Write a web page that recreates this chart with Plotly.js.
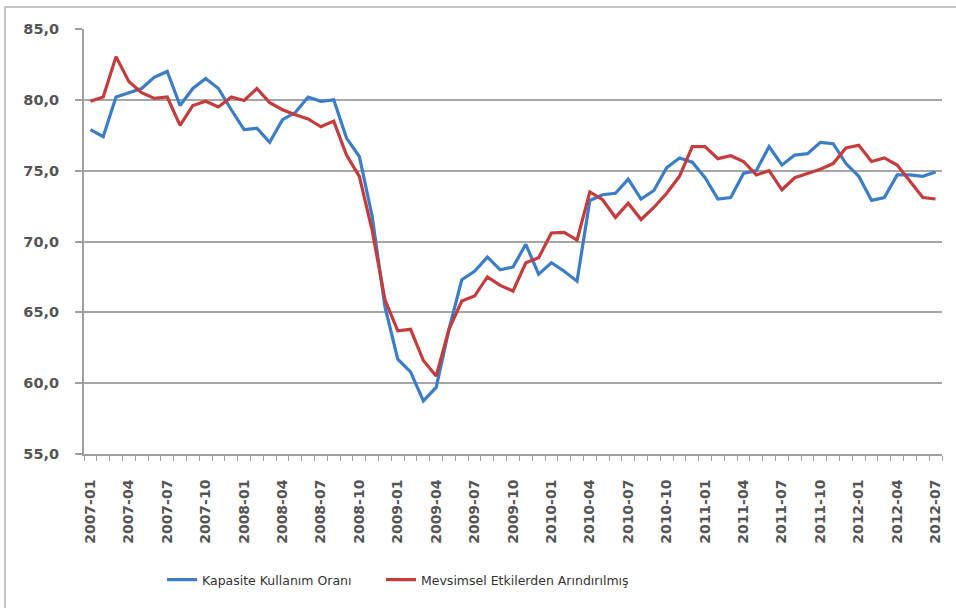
<!DOCTYPE html>
<html>
<head>
<meta charset="utf-8">
<script src="https://cdn.plot.ly/plotly-3.0.1.min.js"></script>
<style>
html,body{margin:0;padding:0;background:#fff;}
#chart{width:956px;height:608px;}
</style>
</head>
<body>
<div id="chart"></div>
<script>
var months = [
"2007-01","2007-02","2007-03","2007-04","2007-05","2007-06","2007-07","2007-08","2007-09","2007-10","2007-11","2007-12",
"2008-01","2008-02","2008-03","2008-04","2008-05","2008-06","2008-07","2008-08","2008-09","2008-10","2008-11","2008-12",
"2009-01","2009-02","2009-03","2009-04","2009-05","2009-06","2009-07","2009-08","2009-09","2009-10","2009-11","2009-12",
"2010-01","2010-02","2010-03","2010-04","2010-05","2010-06","2010-07","2010-08","2010-09","2010-10","2010-11","2010-12",
"2011-01","2011-02","2011-03","2011-04","2011-05","2011-06","2011-07","2011-08","2011-09","2011-10","2011-11","2011-12",
"2012-01","2012-02","2012-03","2012-04","2012-05","2012-06","2012-07"];

var tickLabels = ["2007-01","2007-04","2007-07","2007-10","2008-01","2008-04","2008-07","2008-10",
"2009-01","2009-04","2009-07","2009-10","2010-01","2010-04","2010-07","2010-10",
"2011-01","2011-04","2011-07","2011-10","2012-01","2012-04","2012-07"];

var kapasite = [
77.9,77.4,80.2,80.5,80.8,81.6,82.0,79.6,80.8,81.5,80.8,79.3,
77.9,78.0,77.0,78.6,79.1,80.2,79.9,80.0,77.3,76.0,71.8,65.4,
61.7,60.8,58.75,59.7,63.8,67.3,67.9,68.9,68.0,68.2,69.8,67.7,
68.5,67.9,67.2,72.9,73.3,73.4,74.4,73.0,73.6,75.2,75.9,75.6,
74.5,73.0,73.1,74.8,75.0,76.7,75.4,76.1,76.2,77.0,76.9,75.5,
74.6,72.9,73.1,74.7,74.7,74.6,74.9];

var mevsimsel = [
79.9,80.2,83.05,81.3,80.5,80.1,80.2,78.2,79.6,79.9,79.5,80.2,
79.95,80.8,79.8,79.3,78.95,78.65,78.1,78.5,76.1,74.6,70.8,65.9,
63.7,63.8,61.6,60.5,63.8,65.8,66.15,67.5,66.9,66.5,68.5,68.85,
70.6,70.65,70.1,73.5,72.95,71.7,72.7,71.55,72.4,73.4,74.6,76.7,
76.7,75.85,76.05,75.65,74.7,75.0,73.65,74.5,74.8,75.1,75.5,76.6,
76.8,75.65,75.9,75.4,74.25,73.1,73.0];

var seriesNames = ["Kapasite Kullanım Oranı", "Mevsimsel Etkilerden Arındırılmış"];

var tickText = months.map(function(m){ return tickLabels.indexOf(m) >= 0 ? m : ""; });

var traces = [
  {x: months, y: kapasite, type: "scatter", mode: "lines", name: seriesNames[0],
   line: {color: "#3b7dc8", width: 3.2}, legend: "legend"},
  {x: months, y: mevsimsel, type: "scatter", mode: "lines", name: seriesNames[1],
   line: {color: "#c63b3b", width: 3.2}, legend: "legend2"}
];

var W = 956, H = 608, L = 84, R = 14, T = 29, B = 154;
var pw = W - L - R, ph = H - T - B;
function px(x){ return (x - L) / pw; }
function py(y){ return (H - B - y) / ph; }

var legendFont = {family: "DejaVu Sans", size: 12.5, color: "#333333"};

var layout = {
  width: W, height: H,
  margin: {l: L, r: R, t: T, b: B, pad: 0},
  paper_bgcolor: "#ffffff",
  plot_bgcolor: "#ffffff",
  separators: ",.",
  showlegend: true,
  font: {family: "DejaVu Sans", color: "#555555"},
  xaxis: {
    type: "category",
    range: [-0.5, months.length - 0.5],
    tickmode: "array",
    tickvals: months,
    ticktext: tickText,
    tickson: "boundaries",
    ticks: "outside",
    ticklen: 5,
    tickwidth: 1,
    tickcolor: "#a0a0a0",
    tickangle: -90,
    ticklabelstandoff: 18,
    tickfont: {family: "DejaVu Sans", size: 14, color: "#555555", weight: "bold"},
    showgrid: false,
    showline: true,
    linecolor: "#a0a0a0",
    linewidth: 2,
    zeroline: false,
    fixedrange: true
  },
  yaxis: {
    range: [55, 85],
    tickmode: "array",
    tickvals: [55, 60, 65, 70, 75, 80, 85],
    tickformat: ".1f",
    ticks: "outside",
    ticklen: 7,
    tickwidth: 2,
    tickcolor: "#a0a0a0",
    ticklabelstandoff: 13,
    tickfont: {family: "DejaVu Sans", size: 14.5, color: "#555555", weight: "bold"},
    showgrid: true,
    gridcolor: "#a6a6a6",
    gridwidth: 2,
    showline: true,
    linecolor: "#a0a0a0",
    linewidth: 2,
    zeroline: false,
    fixedrange: true
  },
  legend: {
    orientation: "h",
    x: px(162), xanchor: "left",
    y: py(580), yanchor: "middle",
    font: legendFont,
    bgcolor: "rgba(0,0,0,0)"
  },
  legend2: {
    orientation: "h",
    x: px(381), xanchor: "left",
    y: py(580), yanchor: "middle",
    font: legendFont,
    bgcolor: "rgba(0,0,0,0)"
  },
  shapes: [{
    type: "rect", xref: "paper", yref: "paper",
    x0: px(5), x1: px(975), y0: py(625), y1: py(7),
    line: {color: "#c4c4c4", width: 2},
    fillcolor: "rgba(0,0,0,0)",
    layer: "below"
  }]
};

Plotly.newPlot("chart", traces, layout, {displayModeBar: false, staticPlot: true});
</script>
</body>
</html>
